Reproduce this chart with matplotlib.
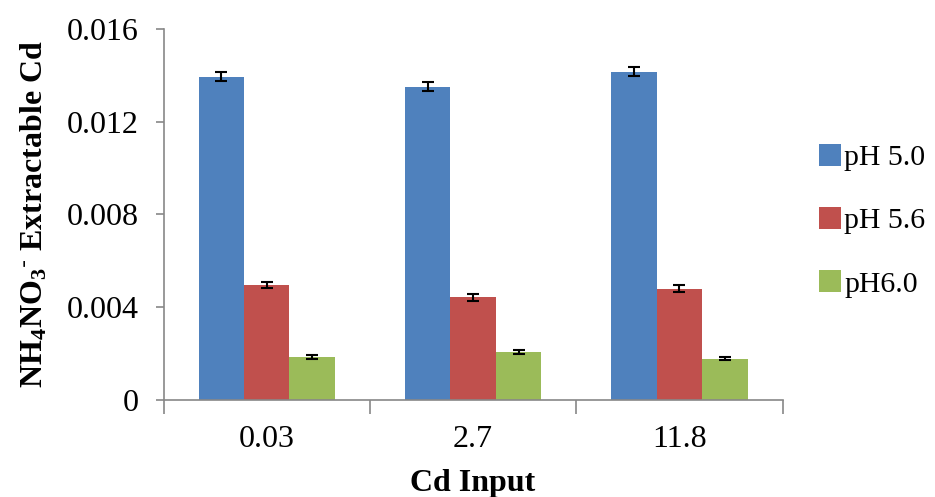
import numpy as np
import matplotlib
matplotlib.use('Agg')
import matplotlib.pyplot as plt

# data
categories = ['0.03', '2.7', '11.8']
series_names = ['pH 5.0', 'pH 5.6', 'pH6.0']
ph50 = [0.01393, 0.01350, 0.01416]
ph56 = [0.00496, 0.00444, 0.00479]
ph60 = [0.00185, 0.00207, 0.00179]
err50 = [0.00020, 0.00020, 0.00020]
err56 = [0.00015, 0.00015, 0.00015]
err60 = [0.00008, 0.00008, 0.00008]
colors = ['#4F81BD', '#C0504D', '#9BBB59']

plt.rcParams['font.family'] = ['Liberation Serif', 'DejaVu Serif']
plt.rcParams['mathtext.default'] = 'regular'

fig = plt.figure(figsize=(9.35, 4.97), dpi=100)
ax = fig.add_axes([0.175, 0.195, 0.662, 0.747])

x = np.arange(len(categories))
width = 0.22
values = [ph50, ph56, ph60]
errors = [err50, err56, err60]
for i, (vals, errs) in enumerate(zip(values, errors)):
    ax.bar(x + (i - 1) * width, vals, width, color=colors[i],
           label=series_names[i], zorder=2)
    ax.errorbar(x + (i - 1) * width, vals, yerr=errs, fmt='none',
                ecolor='black', elinewidth=1.5, capsize=4.3,
                capthick=1.5, zorder=3)

ax.set_xlim(-0.5, len(categories) - 0.5)
ax.set_ylim(0, 0.016)
ax.set_yticks([0, 0.004, 0.008, 0.012, 0.016])
ax.set_yticklabels(['0', '0.004', '0.008', '0.012', '0.016'])
ax.set_xticks(x)
ax.set_xticklabels(categories)
ax.set_xticks(np.arange(-0.5, len(categories), 1.0), minor=True)
ax.tick_params(axis='x', which='major', length=0, labelsize=23, pad=18)
ax.tick_params(axis='x', which='minor', length=10, width=1.2,
               color='#888888', direction='out')
ax.tick_params(axis='y', labelsize=23, length=6, width=1.2,
               color='#888888', direction='out', pad=12)

for side in ['top', 'right']:
    ax.spines[side].set_visible(False)
for side in ['left', 'bottom']:
    ax.spines[side].set_color('#888888')
    ax.spines[side].set_linewidth(1.2)

ax.set_xlabel('Cd Input', fontsize=23, fontweight='bold', labelpad=11)
ax.set_ylabel('NH$_4$NO$_3$$^{\\text{-}}$ Extractable Cd', fontsize=23,
              fontweight='bold', labelpad=12)

fig.legend(loc='center left', bbox_to_anchor=(0.876, 0.556), frameon=False,
           fontsize=21.5, handlelength=0.75, handleheight=0.75, borderpad=0,
           borderaxespad=0, handletextpad=0.1, labelspacing=1.2)

fig.savefig('out.png', dpi=100)
